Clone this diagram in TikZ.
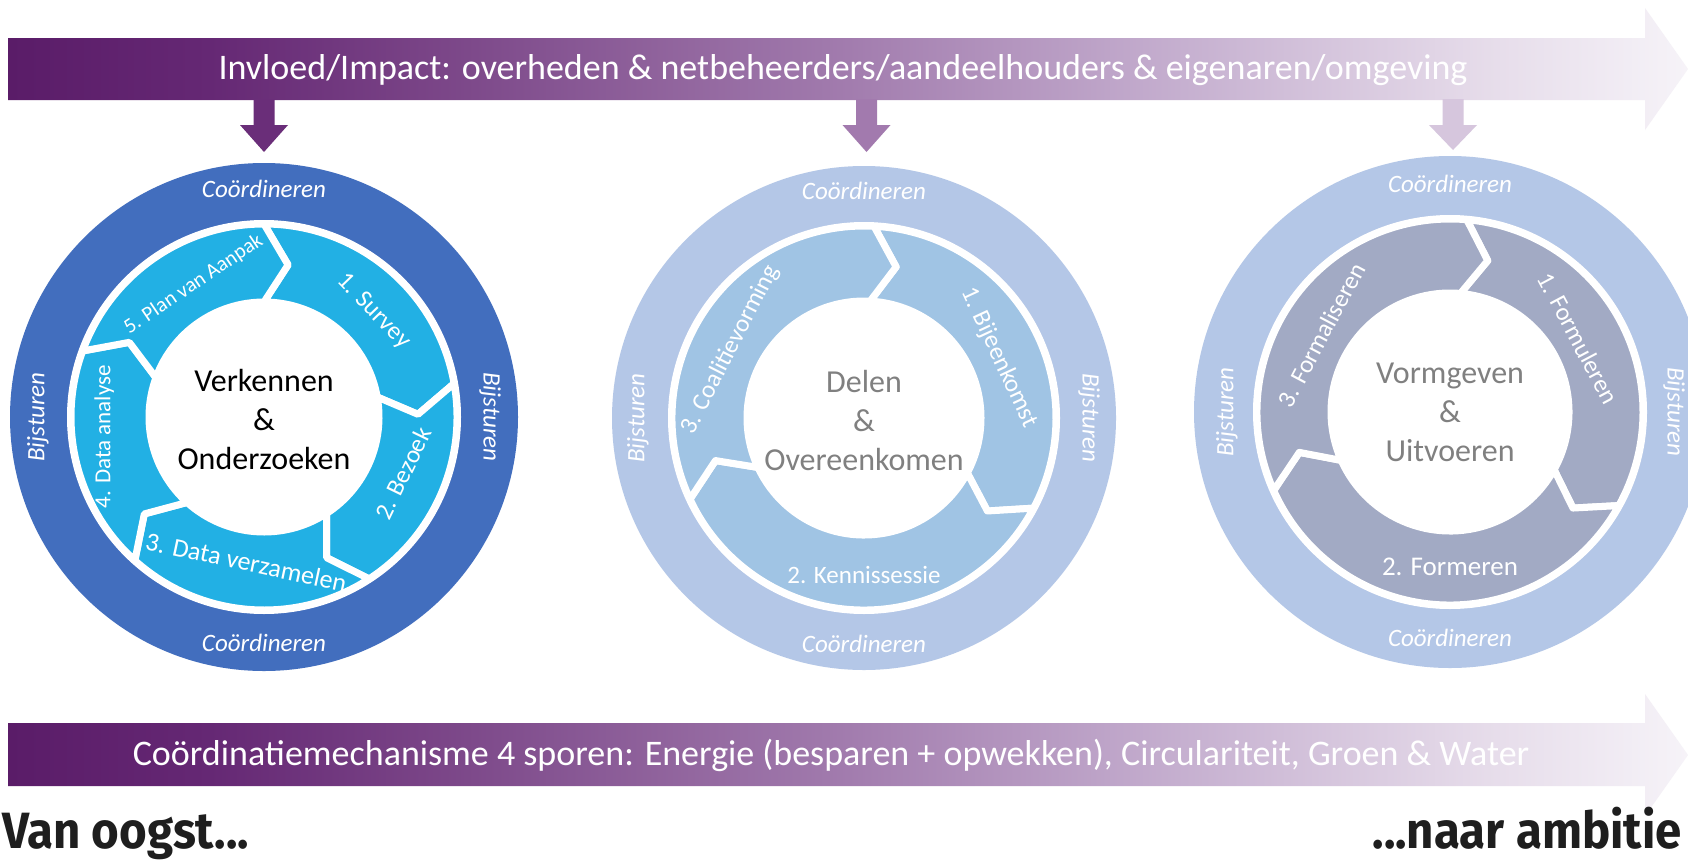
\documentclass[tikz,border=0pt]{standalone}
\usepackage{fontspec}
\setmainfont{Carlito}
\newfontfamily\condbold[FakeStretch=0.93]{Fira Sans}

\definecolor{barA}{RGB}{90,28,104}
\definecolor{barB}{RGB}{101,40,116}
\definecolor{barC}{RGB}{123,70,136}
\definecolor{barD}{RGB}{162,124,174}
\definecolor{barE}{RGB}{198,176,208}
\definecolor{barF}{RGB}{230,220,234}
\definecolor{barG}{RGB}{246,243,248}
\definecolor{arrOne}{RGB}{106,46,121}
\definecolor{arrTwo}{RGB}{162,122,174}
\definecolor{arrThree}{RGB}{214,198,221}
\definecolor{ringDark}{RGB}{66,110,190}
\definecolor{segCyan}{RGB}{34,176,228}
\definecolor{ringLight}{RGB}{180,199,231}
\definecolor{segLight}{RGB}{160,196,228}
\definecolor{segGrey}{RGB}{162,170,196}
\definecolor{midGrey}{RGB}{128,128,128}
\definecolor{endBlack}{RGB}{30,30,30}

\pgfdeclarehorizontalshading{barshade}{100bp}{color(0bp)=(barA); color(25bp)=(barA); color(31bp)=(barB); color(38bp)=(barC); color(50bp)=(barD); color(60bp)=(barE); color(69bp)=(barF); color(75bp)=(barG); color(100bp)=(barG)}

\newcommand\tipd{9}
% #1 start angle, #2 end angle (clockwise), #3 outer r, #4 inner r, #5 colour
\newcommand\segpiece[5]{%
  \filldraw[fill=#5, draw=white, line width=7pt, line join=round]
    (#1:#3) arc[start angle=#1, end angle=#2, radius=#3]
    -- ({#2-\tipd}:{(#3+#4)/2}) -- (#2:#4)
    arc[start angle=#2, end angle=#1, radius=#4]
    -- ({#1-\tipd}:{(#3+#4)/2}) -- cycle;}

\tikzset{
  bartext/.style={text=white, font=\fontsize{36}{36}\selectfont, inner sep=0pt},
  ringlab/.style={text=white, font=\fontsize{25}{25}\selectfont\itshape, inner sep=0pt},
  seglab/.style={text=white, font=\fontsize{25}{25}\selectfont, inner sep=0pt},
  centerlab/.style={align=center, font=\fontsize{32}{39}\selectfont, inner sep=0pt},
  endlab/.style={font=\condbold\bfseries\fontsize{51}{51}\selectfont, text=endBlack, inner sep=0pt},
}

\begin{document}
\begin{tikzpicture}[x=1pt,y=1pt]
\path[use as bounding box] (0,0) rectangle (1688,-862);
\clip (0,0) rectangle (1688,-862);
\fill[white] (0,0) rectangle (1688,-862);

% top bar arrow
\shade[shading=barshade] (8,-38) -- (1645,-38) -- (1645,-8) -- (1688,-69) -- (1645,-130) -- (1645,-100) -- (8,-100) -- cycle;
\node[bartext] (toptext) at (843,-70) {Invloed/Impact: overheden \& netbeheerders/aandeelhouders \& eigenaren/omgeving};

% down arrows
\fill[arrOne] (253.5,-99) -- (274.5,-99) -- (274.5,-125) -- (288,-125) -- (264,-152) -- (240,-125) -- (253.5,-125) -- cycle;
\fill[arrTwo] (856,-99) -- (877,-99) -- (877,-125) -- (890.5,-125) -- (866.5,-152) -- (842.5,-125) -- (856,-125) -- cycle;
\fill[arrThree] (1442.5,-99) -- (1463.5,-99) -- (1463.5,-125) -- (1477,-125) -- (1453,-150) -- (1429,-125) -- (1442.5,-125) -- cycle;

% circle 1
\begin{scope}[shift={(264,-417)}]
  \fill[ringDark] (0,0) circle[radius=254];
  \fill[white] (0,0) circle[radius=197];
  \segpiece{90}{10}{193}{115}{segCyan}
  \segpiece{10}{-57}{193}{115}{segCyan}
  \segpiece{-57}{-132}{193}{115}{segCyan}
  \segpiece{-132}{-200}{193}{115}{segCyan}
  \segpiece{-200}{-270}{193}{115}{segCyan}
  \node[ringlab] (c1top) at (0,228) {Coördineren};
  \node[ringlab] (c1bot) at (0,-226) {Coördineren};
  \node[ringlab, rotate=90] (c1left) at (-226,0) {Bijsturen};
  \node[ringlab, rotate=-90] (c1right) at (226,0) {Bijsturen};
  \node[seglab, rotate=-46] (c1s1) at (44:152) {1. Survey};
  \node[seglab, rotate=64] (c1s2) at (-22:150) {2. Bezoek};
  \node[seglab, rotate=-12, font=\fontsize{26}{26}\selectfont] (c1s3) at (-97:146) {3. Data verzamelen};
  \node[seglab, rotate=90, font=\fontsize{23}{23}\selectfont] (c1s4) at (187:161) {4. Data analyse};
  \node[seglab, rotate=34, font=\fontsize{21}{21}\selectfont] (c1s5) at (118:150) {5. Plan van Aanpak};
  \node[centerlab, text=black] (c1mid) at (0,-2) {Verkennen\\\&\\Onderzoeken};
\end{scope}

% circle 2
\begin{scope}[shift={(864,-418)}]
  \fill[ringLight] (0,0) circle[radius=252];
  \fill[white] (0,0) circle[radius=196];
  \segpiece{87}{-28}{192}{117}{segLight}
  \segpiece{-28}{-155}{192}{117}{segLight}
  \segpiece{-155}{-273}{192}{117}{segLight}
  \node[ringlab] (c2top) at (0,227) {Coördineren};
  \node[ringlab] (c2bot) at (0,-226) {Coördineren};
  \node[ringlab, rotate=90] (c2left) at (-226,0) {Bijsturen};
  \node[ringlab, rotate=-90] (c2right) at (225,0) {Bijsturen};
  \node[seglab, rotate=-65] (c2s1) at (24:148) {1. Bijeenkomst};
  \node[seglab] (c2s2) at (-90:157) {2. Kennissessie};
  \node[seglab, rotate=63] (c2s3) at (153:150) {3. Coalitievorming};
  \node[centerlab, text=midGrey] (c2mid) at (0,-2) {Delen\\\&\\Overeenkomen};
\end{scope}

% circle 3
\begin{scope}[shift={(1450,-412)}]
  \fill[ringLight] (0,0) circle[radius=256];
  \fill[white] (0,0) circle[radius=197];
  \segpiece{85}{-29}{193}{119}{segGrey}
  \segpiece{-29}{-156}{193}{119}{segGrey}
  \segpiece{-156}{-275}{193}{119}{segGrey}
  \node[ringlab] (c3top) at (0,228) {Coördineren};
  \node[ringlab] (c3bot) at (0,-226) {Coördineren};
  \node[ringlab, rotate=90] (c3left) at (-223,0) {Bijsturen};
  \node[ringlab, rotate=-90] (c3right) at (224,0) {Bijsturen};
  \node[seglab, rotate=-62] (c3s1) at (30:148) {1. Formuleren};
  \node[seglab, font=\fontsize{27}{27}\selectfont] (c3s2) at (-90:155) {2. Formeren};
  \node[seglab, rotate=62] (c3s3) at (149:150) {3. Formaliseren};
  \node[centerlab, text=midGrey] (c3mid) at (0,0) {Vormgeven\\\&\\Uitvoeren};
\end{scope}

% bottom bar arrow
\shade[shading=barshade] (8,-723) -- (1645,-723) -- (1645,-694) -- (1688,-755) -- (1645,-816) -- (1645,-786) -- (8,-786) -- cycle;
\node[bartext] (bottext) at (831,-755) {Coördinatiemechanisme 4 sporen: Energie (besparen + opwekken), Circulariteit, Groen \& Water};

\node[endlab, anchor=base west] (vanoogst) at (2,-848) {Van oogst...};
\node[endlab, anchor=base east] (naarambitie) at (1682,-848) {...naar ambitie};
\end{tikzpicture}
\end{document}
